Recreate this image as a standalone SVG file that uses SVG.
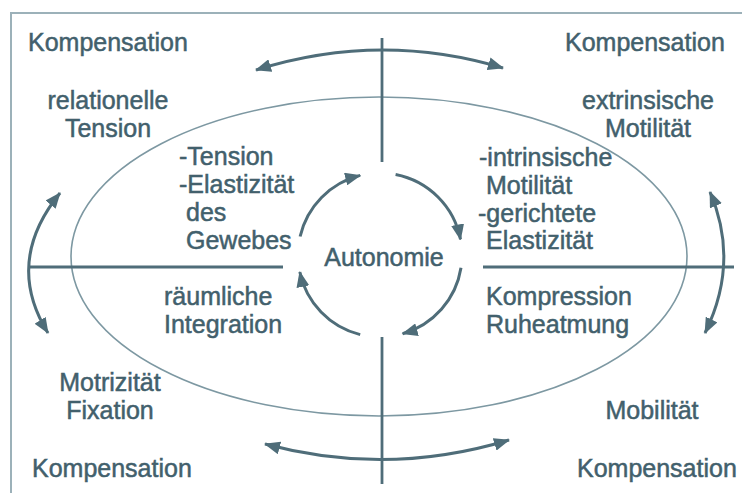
<svg xmlns="http://www.w3.org/2000/svg" width="742" height="493" viewBox="0 0 742 493">
<style>
text{font-family:"Liberation Sans",Arial,sans-serif;font-size:25px;fill:#42606c;stroke:#42606c;stroke-width:0.5}
.c{text-anchor:middle}
.ax{stroke:#4f6d79;stroke-width:2.8;fill:none}
.arr{stroke:#4f6d79;stroke-width:3;fill:none}
.frame{stroke:#9cb1b9;stroke-width:2;fill:none}
.ell{stroke:#7d98a2;stroke-width:1.6;fill:none}
</style>
<defs>
<marker id="ah" viewBox="0 0 16 13" refX="15" refY="6.5" markerWidth="16" markerHeight="13" markerUnits="userSpaceOnUse" orient="auto-start-reverse">
<path d="M0,0 L16,6.5 L0,13 z" fill="#4f6d79"/>
</marker>
</defs>
<rect width="742" height="493" fill="#ffffff"/>
<g id="frame">
<path class="frame" d="M11,493 L11,13 L742,13"/>
</g>
<g id="ellipse">
<ellipse class="ell" cx="379" cy="256.5" rx="308" ry="159.5"/>
</g>
<g id="connectors">
<line class="ax" x1="382" y1="38" x2="382" y2="162"/>
<line class="ax" x1="382" y1="337" x2="382" y2="484"/>
<line class="ax" x1="28" y1="267" x2="283" y2="267"/>
<line class="ax" x1="483" y1="267" x2="734" y2="267"/>
<path class="arr" d="M256,70 Q380,31 503,68" marker-start="url(#ah)" marker-end="url(#ah)"/>
<path class="arr" d="M265,444 Q387,477 509,440" marker-start="url(#ah)" marker-end="url(#ah)"/>
<path class="arr" d="M60,193 Q4,262 48,333" marker-start="url(#ah)" marker-end="url(#ah)"/>
<path class="arr" d="M710,192 Q740,262 705,333" marker-start="url(#ah)" marker-end="url(#ah)"/>
<path class="arr" d="M300.1,236.5 A82,82 0 0 1 360.2,175.4" marker-end="url(#ah)"/>
<path class="arr" d="M395.6,174.5 A82,82 0 0 1 460.5,239.4" marker-end="url(#ah)"/>
<path class="arr" d="M461,267.8 A82,82 0 0 1 402.6,333.8" marker-end="url(#ah)"/>
<path class="arr" d="M360.2,334.6 A82,82 0 0 1 299.8,272" marker-end="url(#ah)"/>
</g>
<g id="kompensation-tl"><text x="28" y="51">Kompensation</text></g>
<g id="kompensation-tr"><text x="565" y="51">Kompensation</text></g>
<g id="kompensation-bl"><text x="32" y="477">Kompensation</text></g>
<g id="kompensation-br"><text x="577" y="477">Kompensation</text></g>
<g id="relationelle"><text class="c" x="108" y="109">relationelle</text><text class="c" x="108" y="137">Tension</text></g>
<g id="extrinsische"><text class="c" x="648" y="109">extrinsische</text><text class="c" x="648" y="137">Motilität</text></g>
<g id="tension"><text x="179" y="165">-Tension</text><text x="179" y="193">-Elastizität</text><text x="186" y="221">des</text><text x="186" y="249">Gewebes</text></g>
<g id="intrinsische"><text x="479" y="166">-intrinsische</text><text x="486" y="194">Motilität</text><text x="478" y="222">-gerichtete</text><text x="486" y="249">Elastizität</text></g>
<g id="autonomie"><text class="c" x="384" y="266">Autonomie</text></g>
<g id="raeumliche"><text x="164" y="305">räumliche</text><text x="164" y="333">Integration</text></g>
<g id="kompression"><text x="486" y="305">Kompression</text><text x="486" y="333">Ruheatmung</text></g>
<g id="motrizitaet"><text class="c" x="110" y="391">Motrizität</text><text class="c" x="110" y="419">Fixation</text></g>
<g id="mobilitaet"><text class="c" x="652" y="419">Mobilität</text></g>
</svg>
